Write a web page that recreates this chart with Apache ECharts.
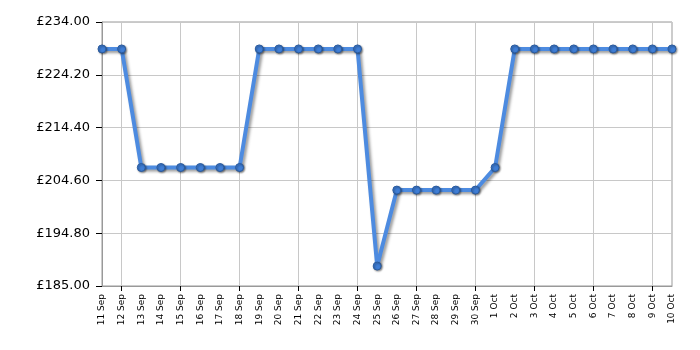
<!DOCTYPE html>
<html>
<head>
<meta charset="utf-8">
<script src="https://cdn.jsdelivr.net/npm/echarts@6/dist/echarts.min.js"></script>
<style>html,body{margin:0;padding:0;background:#fff;}#c{width:700px;height:350px;}</style>
</head>
<body>
<div id="c"></div>
<script>
const categories = ['11 Sep','12 Sep','13 Sep','14 Sep','15 Sep','16 Sep','17 Sep','18 Sep','19 Sep','20 Sep','21 Sep','22 Sep','23 Sep','24 Sep','25 Sep','26 Sep','27 Sep','28 Sep','29 Sep','30 Sep','1 Oct','2 Oct','3 Oct','4 Oct','5 Oct','6 Oct','7 Oct','8 Oct','9 Oct','10 Oct'];
const prices = [229,229,206.99,206.99,206.99,206.99,206.99,206.99,229,229,229,229,229,229,188.7,202.8,202.8,202.8,202.8,202.8,206.99,229,229,229,229,229,229,229,229,229];
const yMin = 185, yMax = 234, yStep = 9.8;

const chart = echarts.init(document.getElementById('c'));
chart.setOption({
  animation: false,
  grid: {left: 102, right: 28, top: 22, bottom: 64, show: true, borderColor: '#999', borderWidth: 1},
  xAxis: {
    type: 'category', data: categories, boundaryGap: false,
    axisLine: {lineStyle: {color: '#999'}},
    axisTick: {show: true, interval: (i) => i % 3 === 1, length: 5, lineStyle: {color: '#000'}},
    splitLine: {show: true, interval: (i) => i % 3 === 1, lineStyle: {color: '#c8c8c8'}},
    axisLabel: {interval: 0, rotate: 90, fontFamily: 'DejaVu Sans', fontSize: 9, color: '#000', margin: 8}
  },
  yAxis: {
    type: 'value', min: yMin, max: yMax, interval: yStep,
    axisLine: {show: true, lineStyle: {color: '#999'}},
    axisTick: {show: true, length: 6, lineStyle: {color: '#000'}},
    splitLine: {show: true, lineStyle: {color: '#c8c8c8'}},
    axisLabel: {fontFamily: 'DejaVu Sans', fontSize: 13, color: '#000', margin: 12,
      formatter: (v) => '£' + v.toFixed(2)}
  },
  series: [{
    type: 'line', data: prices, symbol: 'circle', symbolSize: 8,
    lineStyle: {color: '#4d8be0', width: 4, shadowColor: 'rgba(0,0,0,0.4)', shadowBlur: 3, shadowOffsetX: 2, shadowOffsetY: 2},
    itemStyle: {color: '#3f7ed6', borderColor: '#2a5a9c', borderWidth: 1, shadowColor: 'rgba(0,0,0,0.4)', shadowBlur: 2, shadowOffsetX: 1, shadowOffsetY: 1}
  }]
});
</script>
</body>
</html>
